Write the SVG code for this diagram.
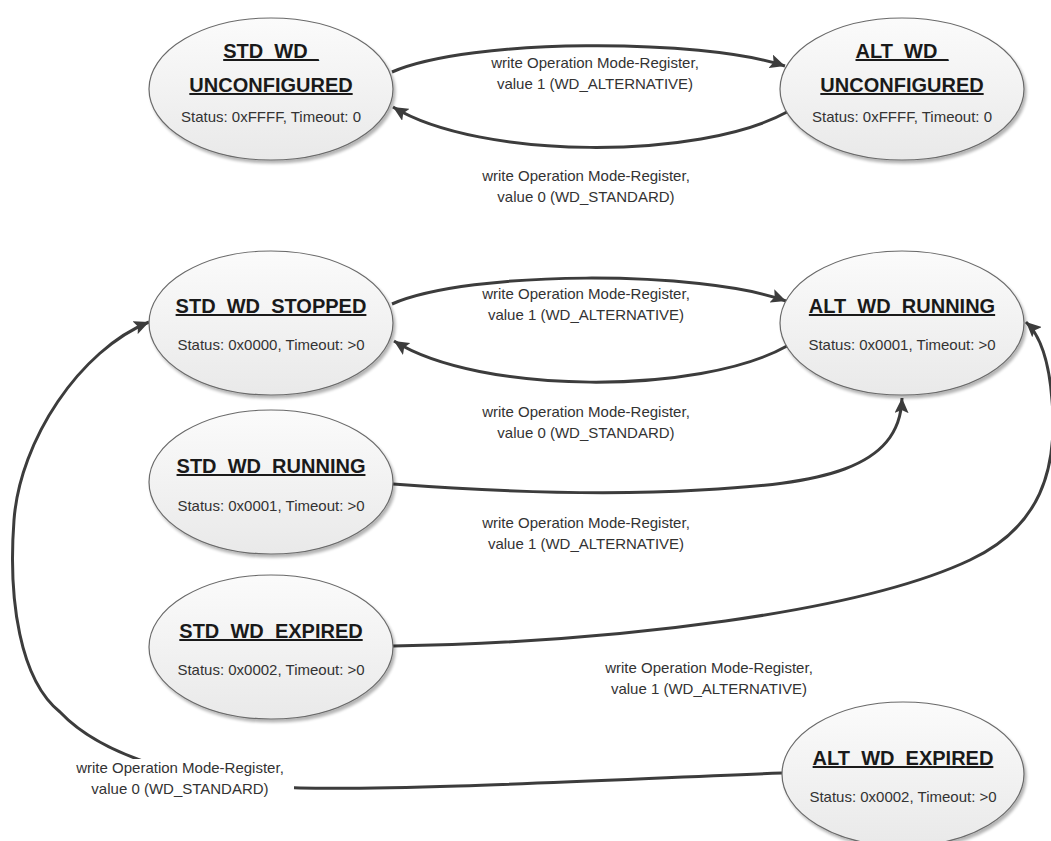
<svg xmlns="http://www.w3.org/2000/svg" width="1051" height="841" viewBox="0 0 1051 841">
<style>
.node ellipse{fill:url(#g);stroke:#6a6a6a;stroke-width:1.2;filter:url(#sh)}
.title{font-family:"Liberation Sans",Arial,sans-serif;font-weight:bold;font-size:20px;fill:#1a1a1a;text-anchor:middle;text-decoration:underline}
.status{font-family:"Liberation Sans",Arial,sans-serif;font-size:15px;fill:#333;text-anchor:middle}
.lbl{font-family:"Liberation Sans",Arial,sans-serif;font-size:15px;fill:#333;text-anchor:middle}
.edge{fill:none;stroke:#3c3c3c;stroke-width:3;marker-end:url(#ah)}
</style>
<defs>
<linearGradient id="g" x1="0" y1="0" x2="0" y2="1">
<stop offset="0" stop-color="#fbfbfb"/>
<stop offset="1" stop-color="#e9e9e9"/>
</linearGradient>
<filter id="sh" x="-10%" y="-10%" width="125%" height="130%">
<feGaussianBlur in="SourceAlpha" stdDeviation="1.5"/>
<feOffset dx="1.5" dy="2.5" result="o"/>
<feComponentTransfer><feFuncA type="linear" slope="0.3"/></feComponentTransfer>
<feMerge><feMergeNode/><feMergeNode in="SourceGraphic"/></feMerge>
</filter>
<marker id="ah" markerUnits="userSpaceOnUse" markerWidth="16" markerHeight="14" refX="15" refY="7" orient="auto">
<path d="M0,0 L15,7 L0,14 L3,7 z" fill="#3c3c3c"/>
</marker>
</defs>
<rect width="1051" height="841" fill="#fff"/>

<g id="connectors">
<path class="edge" d="M392,72 C470,38 700,38 785,66"/>
<path class="edge" d="M787,112 C700,160 480,160 393,107"/>
<path class="edge" d="M392,304 C470,270 700,270 786,301"/>
<path class="edge" d="M787,346 C700,395 480,395 394,341"/>
<path class="edge" stroke-width="2.6" d="M393,484 C500,492 600,496 700,490 C820,484 900,470 902,398"/>
<path class="edge" stroke-width="2.6" d="M393,646 C620,642 860,612 970,560 C1040,527 1058,470 1052,400 C1049,360 1040,335 1026,322"/>
<path class="edge" stroke-width="2.4" d="M782,773 C600,780 420,790 300,788 C220,786 110,765 60,712 C20,680 8,600 14,520 C20,440 80,350 149,322"/>
</g>

<g id="labels">
<text class="lbl" x="595" y="68">write Operation Mode-Register,</text>
<text class="lbl" x="595" y="89">value 1 (WD_ALTERNATIVE)</text>
<text class="lbl" x="586" y="181">write Operation Mode-Register,</text>
<text class="lbl" x="586" y="202">value 0 (WD_STANDARD)</text>
<text class="lbl" x="586" y="299">write Operation Mode-Register,</text>
<text class="lbl" x="586" y="320">value 1 (WD_ALTERNATIVE)</text>
<text class="lbl" x="586" y="417">write Operation Mode-Register,</text>
<text class="lbl" x="586" y="438">value 0 (WD_STANDARD)</text>
<text class="lbl" x="586" y="528">write Operation Mode-Register,</text>
<text class="lbl" x="586" y="549">value 1 (WD_ALTERNATIVE)</text>
<text class="lbl" x="709" y="673">write Operation Mode-Register,</text>
<text class="lbl" x="709" y="694">value 1 (WD_ALTERNATIVE)</text>
<rect x="66" y="759" width="228" height="42" fill="#fff"/>
<text class="lbl" x="180" y="773">write Operation Mode-Register,</text>
<text class="lbl" x="180" y="794">value 0 (WD_STANDARD)</text>
</g>

<g id="std_wd_unconfigured" class="node">
<ellipse cx="271" cy="89" rx="122" ry="71"/>
<text class="title" x="271" y="58">STD_WD_</text>
<text class="title" x="271" y="92">UNCONFIGURED</text>
<text class="status" x="271" y="122">Status: 0xFFFF, Timeout: 0</text>
</g>
<g id="alt_wd_unconfigured" class="node">
<ellipse cx="902" cy="89" rx="122" ry="71"/>
<text class="title" x="902" y="58">ALT_WD_</text>
<text class="title" x="902" y="92">UNCONFIGURED</text>
<text class="status" x="902" y="122">Status: 0xFFFF, Timeout: 0</text>
</g>
<g id="std_wd_stopped" class="node">
<ellipse cx="271" cy="323" rx="122" ry="72"/>
<text class="title" x="271" y="313">STD_WD_STOPPED</text>
<text class="status" x="271" y="350">Status: 0x0000, Timeout: &gt;0</text>
</g>
<g id="alt_wd_running" class="node">
<ellipse cx="902" cy="323" rx="122" ry="72"/>
<text class="title" x="902" y="313">ALT_WD_RUNNING</text>
<text class="status" x="902" y="350">Status: 0x0001, Timeout: &gt;0</text>
</g>
<g id="std_wd_running" class="node">
<ellipse cx="271" cy="482" rx="122" ry="72"/>
<text class="title" x="271" y="473">STD_WD_RUNNING</text>
<text class="status" x="271" y="511">Status: 0x0001, Timeout: &gt;0</text>
</g>
<g id="std_wd_expired" class="node">
<ellipse cx="271" cy="647" rx="122" ry="72"/>
<text class="title" x="271" y="638">STD_WD_EXPIRED</text>
<text class="status" x="271" y="675">Status: 0x0002, Timeout: &gt;0</text>
</g>
<g id="alt_wd_expired" class="node">
<ellipse cx="903" cy="774" rx="121" ry="72"/>
<text class="title" x="903" y="765">ALT_WD_EXPIRED</text>
<text class="status" x="903" y="802">Status: 0x0002, Timeout: &gt;0</text>
</g>
</svg>
